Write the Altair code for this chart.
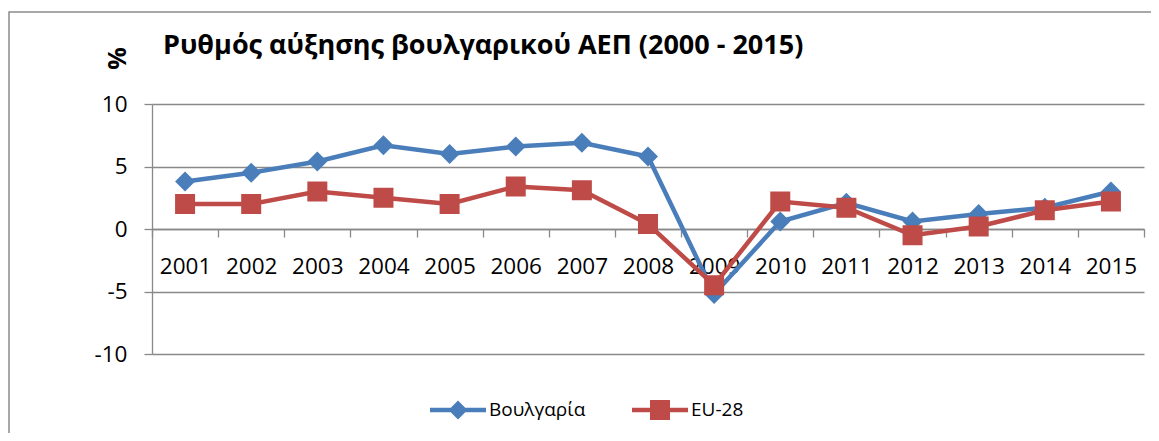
import altair as alt
import pandas as pd

years = ["2001", "2002", "2003", "2004", "2005", "2006", "2007", "2008",
         "2009", "2010", "2011", "2012", "2013", "2014", "2015"]
bulgaria = [3.8, 4.5, 5.4, 6.7, 6.0, 6.6, 6.9, 5.8, -5.2, 0.6, 2.1, 0.6, 1.2, 1.7, 3.0]
eu28 = [2.0, 2.0, 3.0, 2.5, 2.0, 3.4, 3.1, 0.4, -4.5, 2.2, 1.7, -0.5, 0.2, 1.5, 2.2]
series_names = ["Βουλγαρία", "EU-28"]
series_colors = ["#4A7EBB", "#BE4B48"]

rows = []
for name, vals in zip(series_names, [bulgaria, eu28]):
    for y, v in zip(years, vals):
        rows.append({"year": y, "value": v, "series": name})
df = pd.DataFrame(rows)

FONT = "Open Sans"
GRID = "#898989"

blue_path = "M-2.8,-0.22H2.8V0.22H-2.8Z M0,-0.95L0.95,0L0,0.95L-0.95,0Z"
red_path = "M-2.8,-0.22H2.8V0.22H-2.8Z M-1,-1H1V1H-1Z"

x_enc = alt.X("year:N", sort=years, title=None,
              scale=alt.Scale(paddingInner=0, paddingOuter=0),
              axis=alt.Axis(offset=-125, labelAngle=0, labelFont=FONT, labelFontSize=22.5,
                            labelColor="#000", domainColor=GRID, tickColor=GRID,
                            tickSize=8, tickBand="extent", labelPadding=18, grid=False))
y_enc = alt.Y("value:Q", scale=alt.Scale(domain=[-10, 10], nice=False, zero=False),
              axis=alt.Axis(values=[-10, -5, 0, 5, 10], title="%", titleAngle=270,
                            titleFont=FONT, titleFontSize=25, titleFontWeight="bold",
                            titleColor="#000", titleX=-35, titleY=-46,
                            titleAlign="center", titleBaseline="middle",
                            labelExpr="replace(datum.label, '\u2212', '-')",
                            labelFont=FONT, labelFontSize=22.5, labelColor="#000",
                            labelPadding=17, tickSize=8, tickColor=GRID,
                            domainColor=GRID, gridColor=GRID, gridWidth=1.3))

color_scale = alt.Scale(domain=series_names, range=series_colors)

frame = alt.Chart(pd.DataFrame({"a": [0]})).mark_rect(
    fill="transparent", stroke="#8c8c8c", strokeWidth=1.5
).encode(x=alt.value(-143), x2=alt.value(1300), y=alt.value(-92), y2=alt.value(700))

base = alt.Chart(df)
lines = base.mark_line(strokeWidth=4.5, clip=False).encode(
    x=x_enc, y=y_enc,
    color=alt.Color("series:N", sort=series_names, scale=color_scale, legend=None),
    detail="series:N")
points = base.mark_point(filled=True, opacity=1, size=400, clip=False).encode(
    x=x_enc, y=y_enc,
    color=alt.Color("series:N", sort=series_names, scale=color_scale, legend=None),
    shape=alt.Shape("series:N", sort=series_names,
                    scale=alt.Scale(domain=series_names, range=["diamond", "square"]),
                    legend=None))

legend_kw = dict(title=None, orient="none", direction="horizontal",
                 legendX=296, legendY=296, padding=0,
                 labelFont=FONT, labelFontSize=19, labelColor="#000",
                 symbolSize=400, labelOffset=21, columnPadding=46,
                 symbolStrokeWidth=0)
legend_layer = base.transform_filter("false").mark_point(
    filled=True, opacity=1, size=400).encode(
    x=x_enc, y=y_enc,
    color=alt.Color("series:N", sort=series_names, scale=color_scale,
                    legend=alt.Legend(**legend_kw)),
    shape=alt.Shape("series:N", sort=series_names,
                    scale=alt.Scale(domain=series_names, range=[blue_path, red_path]),
                    legend=alt.Legend(**legend_kw)))

chart = alt.layer(frame, lines, points, legend_layer).resolve_scale(
    color="independent", shape="independent"
).properties(
    width=992, height=250,
    autosize=alt.AutoSizeParams(type="none"),
    padding={"left": 144, "top": 96, "right": 7, "bottom": 79},
    title=alt.Title("Ρυθμός αύξησης βουλγαρικού ΑΕΠ (2000 - 2015)",
                    anchor="start", frame="group", dx=11, offset=0, dy=49,
                    font=FONT, fontSize=27, fontWeight="bold", color="#000"),
).configure_view(stroke=None).configure_axis(domainWidth=1.3, tickWidth=1.3)

chart.save("out.html", embed_options={"renderer": "svg", "actions": False})
